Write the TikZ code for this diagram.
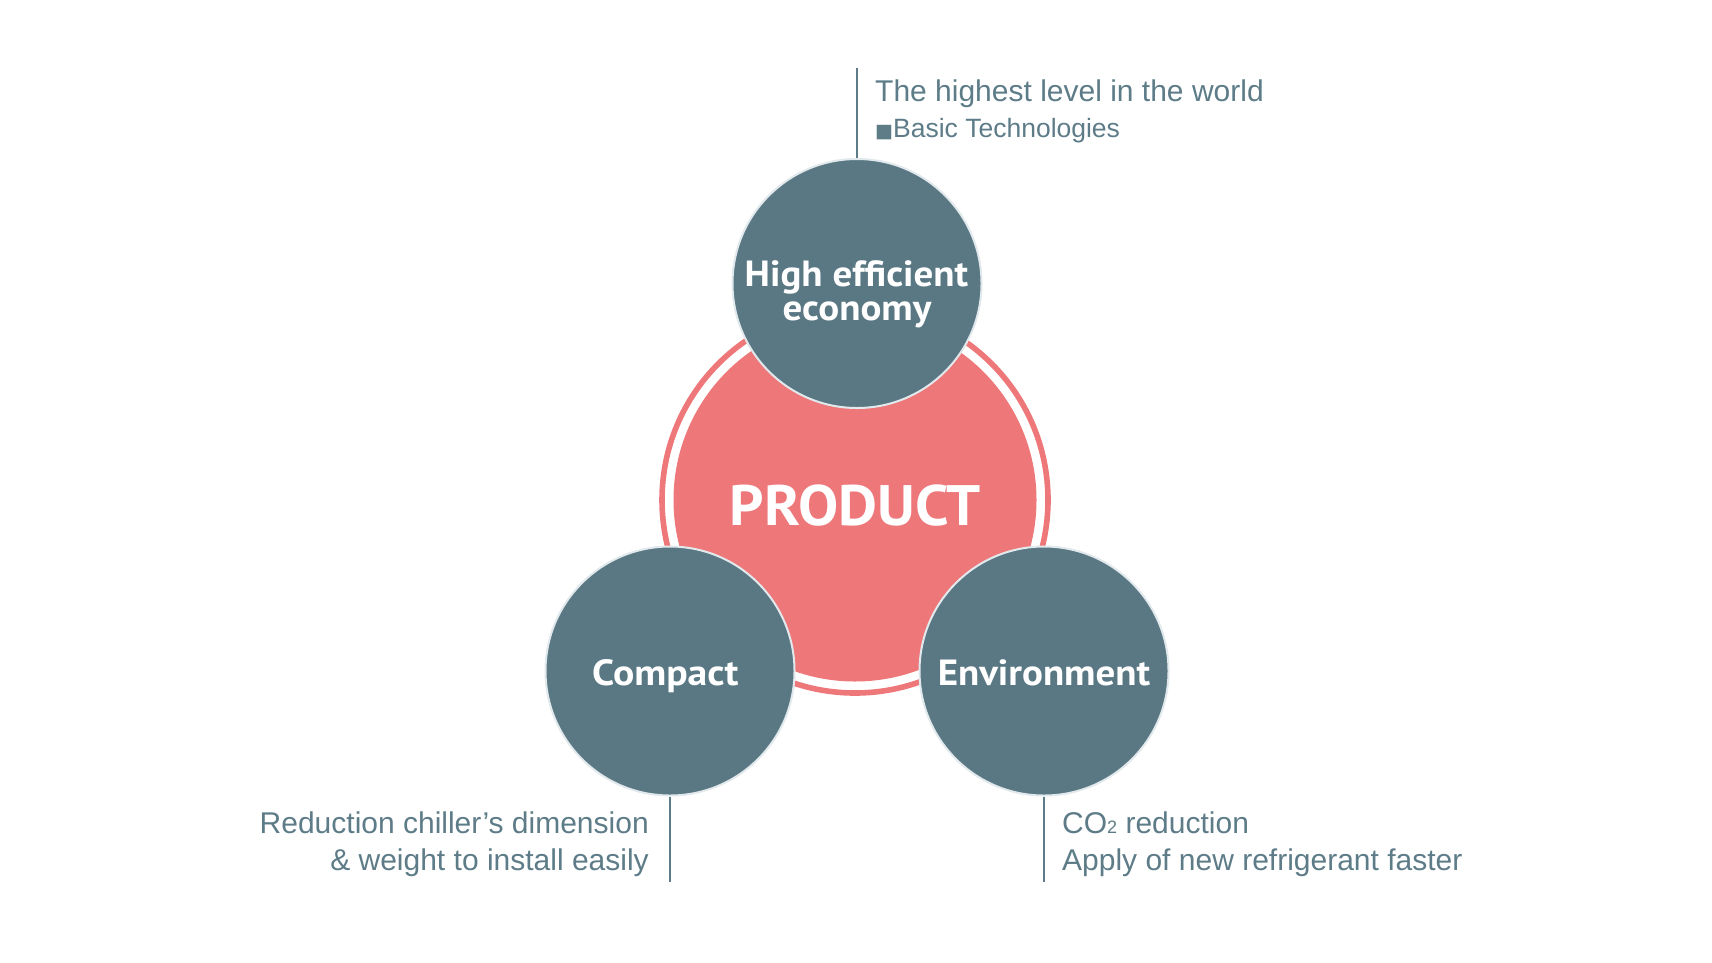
\documentclass[tikz,border=0pt]{standalone}
\usepackage{fontspec}
\setmainfont{Liberation Sans}
\newfontfamily\dinfont{PT Sans}
\newfontfamily\symfont{DejaVu Sans}
\definecolor{slate}{RGB}{90,120,131}
\definecolor{coral}{RGB}{238,119,122}
\definecolor{txt}{RGB}{93,124,136}
\definecolor{rim}{RGB}{225,233,236}
\newcommand\lblx[2][1.07]{\scalebox{#1}[1]{#2}}
\begin{document}
\begin{tikzpicture}[x=1pt,y=-1pt,
  bubble/.style={circle, fill=slate, draw=rim, line width=2pt, minimum size=249pt, inner sep=0pt},
  lbl/.style={inner sep=0pt, text=white, font=\dinfont\bfseries\fontsize{36.4}{40}\selectfont},
  note/.style={inner sep=0pt, text=txt, font=\fontsize{30}{36}\selectfont},
  small/.style={inner sep=0pt, text=txt, font=\fontsize{26.5}{30}\selectfont},
  stem/.style={draw=txt, line width=2pt}]
\useasboundingbox (0,0) rectangle (1712,962);
% centre
\node[circle, draw=coral, line width=5.6pt, minimum size=386pt, inner sep=0pt] (ring) at (855,500) {};
\node[circle, fill=coral, minimum size=363pt, inner sep=0pt] (product) at (855,500) {};
\node[inner sep=0pt, text=white, anchor=base, font=\dinfont\bfseries\fontsize{57}{60}\selectfont] (ptext) at (855,525) {\lblx[1.055]{PRODUCT}};
% bubbles
\node[bubble] (top) at (857,283.5) {};
\node[bubble] (left) at (670,671) {};
\node[bubble] (right) at (1044,671) {};
\node[lbl, anchor=base] (t1) at (856.5,286.7) {\lblx{High efficient}};
\node[lbl, anchor=base] (t2) at (857,320.7) {\lblx{economy}};
\node[lbl, anchor=base] (l1) at (665.3,685.7) {\lblx[1.09]{Compact}};
\node[lbl, anchor=base] (r1) at (1044,685.7) {\lblx{Environment}};
% stems
\coordinate (topend) at (857,68);
\coordinate (leftend) at (670,882);
\coordinate (rightend) at (1044,882);
\draw[stem] (top.north) -- (topend);
\draw[stem] (left.south) -- (leftend);
\draw[stem] (right.south) -- (rightend);
% notes
\node[note, anchor=base west] (n1) at (875,101.7) {The highest level in the world};
\node[small, anchor=base west] (n2) at (875,137) {{\symfont\fontsize{19}{19}\selectfont ■}Basic Technologies};
\node[note, anchor=base east] (n3) at (649,833.5) {Reduction chiller’s dimension};
\node[note, anchor=base east] (n4) at (649,870) {\& weight to install easily};
\node[note, anchor=base west] (n5) at (1062,833.5) {CO{\fontsize{18}{18}\selectfont 2} reduction};
\node[note, anchor=base west] (n6) at (1062,870) {Apply of new refrigerant faster};
\end{tikzpicture}
\end{document}
